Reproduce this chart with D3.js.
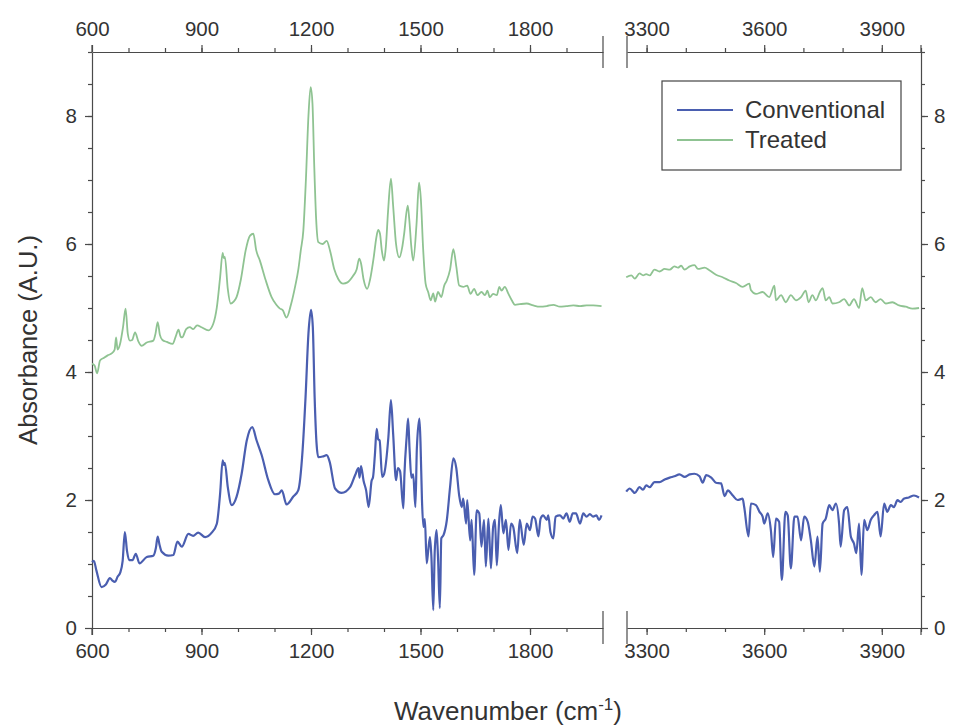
<!DOCTYPE html>
<html><head><meta charset="utf-8">
<script src="https://cdn.jsdelivr.net/npm/d3@7/dist/d3.min.js"></script>
<style>body{margin:0;background:#fff}svg{display:block}text{font-family:"Liberation Sans",Arial,sans-serif;fill:#333}</style>
</head><body><svg id="c" width="954" height="725"></svg>
<script>
// ---- data: [wavenumber (cm-1), absorbance] ----
const conventionalLow = [[600,1.03],[605,1.05],[612,0.9],[626,0.64],[638,0.68],[649,0.78],[656,0.74],[663,0.72],[670,0.8],[677,0.86],[684,1.05],[690,1.50],[696,1.2],[702,1.06],[711,1.06],[720,1.16],[730,1.01],[750,1.11],[768,1.13],[775,1.25],[780,1.43],[785,1.3],[791,1.19],[809,1.13],[823,1.14],[834,1.35],[846,1.27],[864,1.47],[877,1.44],[891,1.49],[910,1.42],[928,1.49],[942,1.63],[951,2.1],[958,2.62],[961,2.55],[964,2.58],[972,2.2],[983,1.92],[996,2.05],[1010,2.41],[1024,2.93],[1039,3.14],[1051,2.93],[1065,2.70],[1083,2.31],[1101,2.09],[1112,2.1],[1120,2.15],[1133,1.93],[1151,2.05],[1165,2.15],[1177,2.78],[1185,3.6],[1193,4.6],[1200,4.97],[1205,4.7],[1210,3.6],[1215,2.9],[1220,2.67],[1232,2.68],[1243,2.70],[1251,2.6],[1266,2.18],[1284,2.11],[1307,2.2],[1321,2.39],[1330,2.5],[1333,2.35],[1337,2.53],[1344,2.3],[1351,2.15],[1358,1.89],[1366,2.3],[1370,2.36],[1375,2.7],[1380,3.11],[1384,2.95],[1388,2.93],[1395,2.36],[1400,2.4],[1412,2.98],[1419,3.56],[1425,3.04],[1433,2.31],[1438,2.5],[1444,2.45],[1453,1.87],[1456,2.4],[1462,2.98],[1466,3.27],[1470,2.8],[1475,2.35],[1480,2.4],[1486,1.89],[1490,2.8],[1497,3.27],[1500,2.9],[1504,2.0],[1508,1.58],[1512,1.7],[1517,1.01],[1521,1.2],[1526,1.42],[1530,1.1],[1535,0.28],[1539,1.2],[1544,1.53],[1548,1.1],[1553,0.31],[1557,1.4],[1563,1.45],[1572,1.68],[1581,2.2],[1590,2.65],[1598,2.5],[1606,2.07],[1613,1.89],[1617,2.02],[1625,1.63],[1628,2.00],[1636,1.37],[1640,1.69],[1647,0.83],[1654,1.84],[1661,1.79],[1667,1.27],[1674,1.69],[1679,0.96],[1686,1.71],[1693,0.93],[1699,1.58],[1704,1.69],[1709,0.98],[1715,1.63],[1720,1.92],[1727,1.48],[1734,1.69],[1741,1.22],[1748,1.63],[1754,1.58],[1765,1.17],[1772,1.69],[1783,1.30],[1791,1.63],[1800,1.53],[1807,1.74],[1814,1.71],[1823,1.43],[1829,1.71],[1836,1.76],[1846,1.69],[1850,1.76],[1856,1.50],[1864,1.40],[1870,1.74],[1882,1.76],[1891,1.71],[1900,1.79],[1909,1.66],[1917,1.79],[1926,1.79],[1937,1.63],[1946,1.79],[1955,1.74],[1964,1.78],[1973,1.74],[1982,1.76],[1989,1.69],[1996,1.76]];
const treatedLow = [[600,4.13],[607,4.1],[614,3.98],[622,4.18],[632,4.22],[643,4.26],[654,4.29],[662,4.35],[666,4.54],[670,4.35],[677,4.44],[685,4.7],[692,4.99],[698,4.6],[704,4.49],[710,4.5],[718,4.62],[727,4.48],[736,4.41],[750,4.46],[768,4.49],[774,4.6],[780,4.78],[786,4.58],[793,4.5],[805,4.47],[821,4.44],[829,4.55],[837,4.66],[843,4.55],[847,4.54],[858,4.67],[868,4.70],[877,4.67],[888,4.73],[900,4.70],[919,4.65],[932,4.75],[942,5.01],[951,5.48],[958,5.86],[961,5.78],[964,5.8],[972,5.3],[980,5.07],[988,5.1],[996,5.17],[1008,5.45],[1021,5.90],[1033,6.13],[1042,6.16],[1050,5.9],[1060,5.74],[1075,5.45],[1092,5.17],[1105,5.05],[1115,4.99],[1122,4.97],[1133,4.85],[1145,5.05],[1157,5.35],[1165,5.59],[1172,5.9],[1179,6.21],[1186,7.0],[1193,8.0],[1199,8.45],[1204,8.2],[1209,7.2],[1214,6.4],[1220,6.03],[1232,6.0],[1243,6.05],[1252,5.9],[1264,5.6],[1275,5.45],[1288,5.38],[1300,5.4],[1315,5.5],[1325,5.6],[1332,5.77],[1337,5.7],[1344,5.45],[1354,5.30],[1362,5.45],[1372,5.8],[1379,6.1],[1384,6.22],[1389,6.16],[1394,5.9],[1400,5.74],[1405,5.95],[1411,6.5],[1419,7.02],[1425,6.6],[1433,6.0],[1442,5.79],[1450,5.95],[1455,6.15],[1465,6.60],[1469,6.4],[1475,5.95],[1480,5.74],[1489,6.3],[1496,6.96],[1501,6.7],[1507,5.95],[1514,5.38],[1521,5.25],[1528,5.12],[1535,5.23],[1540,5.1],[1548,5.25],[1557,5.17],[1565,5.35],[1572,5.43],[1581,5.6],[1590,5.92],[1598,5.65],[1606,5.35],[1617,5.33],[1628,5.35],[1637,5.22],[1647,5.30],[1656,5.20],[1667,5.25],[1677,5.20],[1683,5.27],[1690,5.17],[1699,5.22],[1709,5.20],[1716,5.33],[1722,5.27],[1731,5.33],[1741,5.22],[1750,5.12],[1759,5.05],[1772,5.06],[1791,5.07],[1809,5.04],[1827,5.02],[1846,5.03],[1864,5.05],[1882,5.02],[1900,5.03],[1919,5.04],[1937,5.03],[1955,5.04],[1973,5.04],[1996,5.03]];
const conventionalHigh = [[3248,2.13],[3257,2.18],[3270,2.11],[3282,2.20],[3291,2.16],[3299,2.23],[3308,2.20],[3320,2.28],[3333,2.28],[3346,2.32],[3359,2.35],[3371,2.37],[3384,2.40],[3397,2.36],[3410,2.40],[3422,2.41],[3435,2.37],[3443,2.27],[3452,2.39],[3465,2.35],[3477,2.27],[3490,2.26],[3499,2.06],[3507,2.15],[3520,2.07],[3532,2.00],[3545,2.02],[3549,1.89],[3560,1.43],[3566,1.945],[3579,1.92],[3588,1.815],[3596,1.74],[3600,1.63],[3609,1.79],[3617,1.53],[3623,1.11],[3630,1.71],[3638,1.66],[3645,0.75],[3654,1.815],[3660,1.76],[3668,0.93],[3677,1.74],[3685,1.74],[3694,1.37],[3702,1.74],[3711,1.66],[3719,1.37],[3728,0.96],[3736,1.43],[3742,0.88],[3749,1.63],[3757,1.71],[3766,1.92],[3774,1.84],[3783,1.945],[3791,1.63],[3795,1.27],[3804,1.84],[3812,1.89],[3821,1.43],[3829,1.32],[3835,1.17],[3842,1.63],[3848,0.83],[3855,1.69],[3863,1.53],[3872,1.69],[3880,1.76],[3889,1.815],[3897,1.43],[3906,1.945],[3914,1.815],[3923,1.92],[3931,1.89],[3940,1.997],[3948,1.97],[3956,2.02],[3969,2.04],[3982,2.07],[3995,2.04]];
const treatedHigh = [[3248,5.48],[3261,5.51],[3270,5.46],[3282,5.54],[3291,5.51],[3299,5.53],[3308,5.51],[3320,5.60],[3333,5.57],[3346,5.61],[3359,5.60],[3371,5.65],[3380,5.63],[3388,5.66],[3397,5.60],[3410,5.65],[3422,5.67],[3431,5.61],[3448,5.63],[3460,5.59],[3477,5.52],[3494,5.48],[3511,5.43],[3528,5.39],[3545,5.33],[3562,5.38],[3566,5.28],[3579,5.22],[3596,5.25],[3613,5.17],[3626,5.35],[3630,5.12],[3643,5.20],[3655,5.09],[3668,5.20],[3681,5.12],[3694,5.17],[3706,5.27],[3713,5.09],[3723,5.20],[3732,5.12],[3742,5.25],[3749,5.31],[3757,5.12],[3766,5.17],[3774,5.07],[3791,5.09],[3804,5.14],[3817,5.04],[3829,5.14],[3842,5.00],[3850,5.31],[3859,5.12],[3872,5.17],[3884,5.09],[3897,5.14],[3910,5.07],[3927,5.09],[3944,5.04],[3961,5.02],[3978,4.99],[3995,5.00]];
const seriesNames = ["Conventional","Treated"];
const seriesColors = ["#4a5eb0","#8fc392"];
const xTicksLow = [600,900,1200,1500,1800];
const xTicksHigh = [3300,3600,3900];
const yTicks = [0,2,4,6,8];

// ---- layout ----
const svg = d3.select("#c");
const plotTop = 52, plotBottom = 628;
const xL = d3.scaleLinear().domain([600,2000]).range([92,603]);
const xR = d3.scaleLinear().domain([3250,4000]).range([627,921]);
const y = d3.scaleLinear().domain([0,9]).range([plotBottom,plotTop]);
const axisColor = "#4a4a4a";
const tickFont = "20.5px";

function styleAxis(g){
  g.selectAll("path.domain").attr("stroke",axisColor).attr("stroke-width",1.2);
  g.selectAll(".tick line").attr("stroke",axisColor).attr("stroke-width",1.2);
  g.selectAll(".tick text").style("font-size",tickFont).attr("fill","#333").style("font-family","Liberation Sans, Arial, sans-serif");
}
function xAxes(scale, major, minor){
  let g = svg.append("g").attr("transform",`translate(0,${plotBottom})`)
    .call(d3.axisBottom(scale).tickValues(minor).tickSize(4).tickSizeOuter(0).tickFormat(""));
  styleAxis(g);
  g = svg.append("g").attr("transform",`translate(0,${plotBottom})`)
    .call(d3.axisBottom(scale).tickValues(major).tickSize(7).tickSizeOuter(0).tickPadding(8).tickFormat(d3.format("d")));
  styleAxis(g); g.select("path.domain").remove();
  g = svg.append("g").attr("transform",`translate(0,${plotTop})`)
    .call(d3.axisTop(scale).tickValues(minor).tickSize(4).tickSizeOuter(0).tickFormat(""));
  styleAxis(g);
  g = svg.append("g").attr("transform",`translate(0,${plotTop})`)
    .call(d3.axisTop(scale).tickValues(major).tickSize(7).tickSizeOuter(0).tickPadding(9).tickFormat(d3.format("d")));
  styleAxis(g); g.select("path.domain").remove();
}
xAxes(xL, xTicksLow, d3.range(700,2000,100));
xAxes(xR, xTicksHigh, d3.range(3300,4001,100));

function yAxes(){
  const minor = d3.range(0.5,9.01,0.5);
  let g = svg.append("g").attr("transform",`translate(${xL.range()[0]},0)`)
    .call(d3.axisLeft(y).tickValues(minor).tickSize(4).tickSizeOuter(0).tickFormat(""));
  styleAxis(g);
  g = svg.append("g").attr("transform",`translate(${xL.range()[0]},0)`)
    .call(d3.axisLeft(y).tickValues(yTicks).tickSize(7).tickSizeOuter(0).tickPadding(8).tickFormat(d3.format("d")));
  styleAxis(g); g.select("path.domain").remove();
  g = svg.append("g").attr("transform",`translate(${xR.range()[1]},0)`)
    .call(d3.axisRight(y).tickValues(minor).tickSize(4).tickSizeOuter(0).tickFormat(""));
  styleAxis(g);
  g = svg.append("g").attr("transform",`translate(${xR.range()[1]},0)`)
    .call(d3.axisRight(y).tickValues(yTicks).tickSize(7).tickSizeOuter(0).tickPadding(6).tickFormat(d3.format("d")));
  styleAxis(g); g.select("path.domain").remove();
}
yAxes();
[[92,plotTop-7,plotTop],[921,plotTop-7,plotTop],[92,plotBottom,plotBottom+7],[921,plotBottom,plotBottom+7]].forEach(([x,a,b])=>{
  svg.append("line").attr("x1",x).attr("x2",x).attr("y1",a).attr("y2",b).attr("stroke",axisColor).attr("stroke-width",1.2);
});

// break marks
[xL.range()[1], xR.range()[0]].forEach(x=>{
  svg.append("line").attr("x1",x).attr("x2",x).attr("y1",plotBottom-17).attr("y2",plotBottom+16).attr("stroke",axisColor).attr("stroke-width",1.2);
  svg.append("line").attr("x1",x).attr("x2",x).attr("y1",plotTop-16).attr("y2",plotTop+16).attr("stroke",axisColor).attr("stroke-width",1.2);
});

// lines
function drawLine(data, xs, color, w){
  svg.append("path").datum(data)
    .attr("d", d3.line().curve(d3.curveMonotoneX).x(d=>xs(d[0])).y(d=>y(d[1])))
    .attr("fill","none").attr("stroke",color).attr("stroke-width",w).attr("stroke-linejoin","round");
}
drawLine(treatedLow, xL, seriesColors[1], 1.8);
drawLine(treatedHigh, xR, seriesColors[1], 1.8);
drawLine(conventionalLow, xL, seriesColors[0], 2.2);
drawLine(conventionalHigh, xR, seriesColors[0], 2.2);

// axis titles
svg.append("text").attr("transform","translate(37,340) rotate(-90)").attr("text-anchor","middle")
  .style("font-size","25.5px").text("Absorbance (A.U.)");
const xt = svg.append("text").attr("x",508).attr("y",720).attr("text-anchor","middle").style("font-size","26px");
xt.append("tspan").text("Wavenumber (cm");
xt.append("tspan").attr("dy",-10).style("font-size","17px").text("-1");
xt.append("tspan").attr("dy",10).text(")");

// legend
const lg = svg.append("g");
lg.append("rect").attr("x",662).attr("y",81).attr("width",239).attr("height",89).attr("fill","#fff").attr("stroke","#444").attr("stroke-width",1.2);
seriesNames.forEach((n,i)=>{
  const yy = 110 + i*30;
  lg.append("line").attr("x1",677).attr("x2",733).attr("y1",yy).attr("y2",yy).attr("stroke",seriesColors[i]).attr("stroke-width",i===0?2:1.8);
  lg.append("text").attr("x",745).attr("y",yy+8).style("font-size","24px").text(n);
});
</script></body></html>
